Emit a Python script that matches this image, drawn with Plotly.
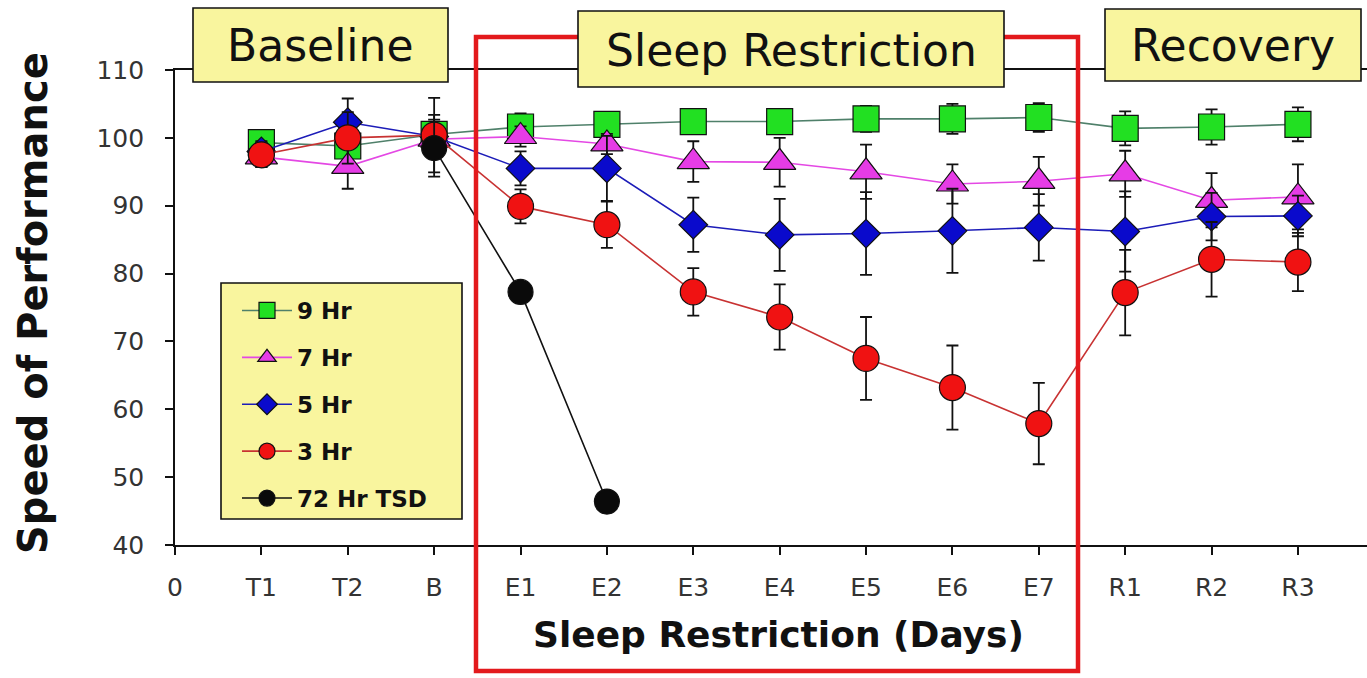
import plotly.graph_objects as go

# Study days on the x axis (first slot "0" is an empty origin tick)
days = ["0", "T1", "T2", "B", "E1", "E2", "E3", "E4", "E5", "E6", "E7", "R1", "R2", "R3"]

# Mean speed of performance per condition, with error bars
hr9 = [None, 99.3, 98.8, 100.5, 101.6, 102.0, 102.4, 102.4, 102.8, 102.8, 103.0, 101.4, 101.6, 102.0]
hr9_err = [None, 1.5, 1.5, 1.5, 2.0, 1.5, 1.5, 1.5, 1.9, 2.2, 2.1, 2.5, 2.6, 2.5]

hr7 = [None, 97.2, 95.8, 99.8, 100.2, 99.1, 96.5, 96.4, 95.0, 93.2, 93.6, 94.7, 90.8, 91.3]
hr7_err = [None, 1.5, 3.3, 1.5, 1.5, 1.5, 3.0, 3.6, 4.0, 2.9, 3.6, 3.4, 4.0, 4.8]

hr5 = [None, 98.0, 102.3, 100.2, 95.5, 95.5, 87.2, 85.7, 85.9, 86.3, 86.8, 86.2, 88.4, 88.5]
hr5_err = [None, 1.5, 3.5, 3.2, 2.5, 4.8, 4.0, 5.3, 6.1, 6.2, 4.9, 5.9, 3.5, 3.0]

hr3 = [None, 97.5, 100.0, 100.4, 89.9, 87.2, 77.3, 73.6, 67.5, 63.2, 57.9, 77.2, 82.1, 81.7]
hr3_err = [None, 1.8, 3.8, 5.5, 2.5, 3.4, 3.5, 4.8, 6.1, 6.2, 6.0, 6.3, 5.5, 4.3]

tsd72 = [None, None, None, 98.5, 77.3, 46.4, None, None, None, None, None, None, None, None]
tsd72_err = [None, None, None, 4.2, 0, 0, None, None, None, None, None, None, None, None]

series_names = ["9 Hr", "7 Hr", "5 Hr", "3 Hr", "72 Hr TSD"]
phase_labels = ["Baseline", "Sleep Restriction", "Recovery"]
y_title = "Speed of Performance"
x_title = "Sleep Restriction (Days)"

W, H = 1367, 678
ML, MR, MT, MB = 175, 0, 70, 133
PW, PH = W - ML - MR, H - MT - MB


def px_x(px):
    return (px - ML) / PW


def px_y(py):
    return (H - MB - py) / PH


styles = [
    dict(symbol="square", size=26, fill="#22E022", line="#4F806A"),
    dict(symbol="triangle-up", size=28, fill="#E63CE6", line="#E448E4"),
    dict(symbol="diamond", size=22, fill="#0A0ACC", line="#1C1CB8"),
    dict(symbol="circle", size=26, fill="#F01212", line="#C83232"),
    dict(symbol="circle", size=25, fill="#0A0A0A", line="#111111"),
]
values = [hr9, hr7, hr5, hr3, tsd72]
errors = [hr9_err, hr7_err, hr5_err, hr3_err, tsd72_err]

fig = go.Figure()
for i, (name, ys, es, st) in enumerate(zip(series_names, values, errors, styles)):
    fig.add_trace(go.Scatter(
        x=days, y=ys, name=name, mode="lines+markers",
        connectgaps=False,
        line=dict(color=st["line"], width=1.6),
        marker=dict(symbol=st["symbol"], size=st["size"], color=st["fill"],
                    line=dict(color="#111111", width=1.2)),
        error_y=dict(type="data", array=es, visible=True, color="#111111",
                     thickness=1.8, width=6),
        legendgroup=f"g{i}",
    ))

shapes = []
# Sleep restriction period outline
shapes.append(dict(type="rect", xref="paper", yref="paper",
                   x0=px_x(476), x1=px_x(1078), y0=px_y(671), y1=px_y(37),
                   line=dict(color="#E3191C", width=4.5), fillcolor="rgba(0,0,0,0)",
                   layer="above"))
# Phase label boxes
boxes = [(193, 448, 8, 82), (578, 1004, 11, 87), (1105, 1361, 9, 81)]
for (x0, x1, y0, y1) in boxes:
    shapes.append(dict(type="rect", xref="paper", yref="paper",
                       x0=px_x(x0), x1=px_x(x1), y0=px_y(y1), y1=px_y(y0),
                       line=dict(color="#111111", width=1.6), fillcolor="#F9F59E",
                       layer="above"))
# Legend panel
shapes.append(dict(type="rect", xref="paper", yref="paper",
                   x0=px_x(221), x1=px_x(462), y0=px_y(519), y1=px_y(283),
                   line=dict(color="#111111", width=1.6), fillcolor="#F9F59E",
                   layer="below"))

annotations = []
for (x0, x1, y0, y1), txt in zip(boxes, phase_labels):
    annotations.append(dict(xref="paper", yref="paper",
                            x=px_x((x0 + x1) / 2), y=px_y((y0 + y1) / 2 + 1),
                            text=txt, showarrow=False,
                            font=dict(family="DejaVu Sans", size=44, color="#111111"),
                            xanchor="center", yanchor="middle"))
annotations.append(dict(xref="paper", yref="paper", x=px_x(778), y=px_y(634),
                        text=x_title, showarrow=False,
                        font=dict(family="DejaVu Sans", size=36, color="#111111", weight="bold"),
                        xanchor="center", yanchor="middle"))
annotations.append(dict(xref="paper", yref="paper", x=px_x(33), y=px_y(303),
                        text=y_title, showarrow=False, textangle=-90,
                        font=dict(family="DejaVu Sans", size=40, color="#111111", weight="bold"),
                        xanchor="center", yanchor="middle"))

fig.update_layout(
    width=W, height=H,
    margin=dict(l=ML, r=MR, t=MT, b=MB, pad=0),
    paper_bgcolor="white", plot_bgcolor="white",
    font=dict(family="DejaVu Sans", color="#333333"),
    showlegend=True,
    legend=dict(x=px_x(237), y=px_y(289), xanchor="left", yanchor="top",
                bgcolor="rgba(0,0,0,0)", borderwidth=0,
                font=dict(family="DejaVu Sans", size=23, color="#111111", weight="bold"),
                itemwidth=50, tracegroupgap=14, traceorder="grouped"),
    shapes=shapes, annotations=annotations,
    xaxis=dict(type="category", categoryorder="array", categoryarray=days,
               range=[0, PW / 86.38], showgrid=False, zeroline=False,
               showline=True, linecolor="#111111", linewidth=1.6, mirror=True,
               ticks="outside", ticklen=8, tickwidth=1.5, tickcolor="#111111",
               ticklabelstandoff=11,
               tickfont=dict(family="DejaVu Sans", size=25, color="#333333")),
    yaxis=dict(range=[40, 110], tickmode="linear", tick0=40, dtick=10,
               showgrid=False, zeroline=False,
               showline=True, linecolor="#111111", linewidth=1.6,
               ticks="outside", ticklen=8, tickwidth=1.5, tickcolor="#111111",
               ticklabelstandoff=16,
               tickfont=dict(family="DejaVu Sans", size=25, color="#333333")),
)

fig.write_html("out.html")
